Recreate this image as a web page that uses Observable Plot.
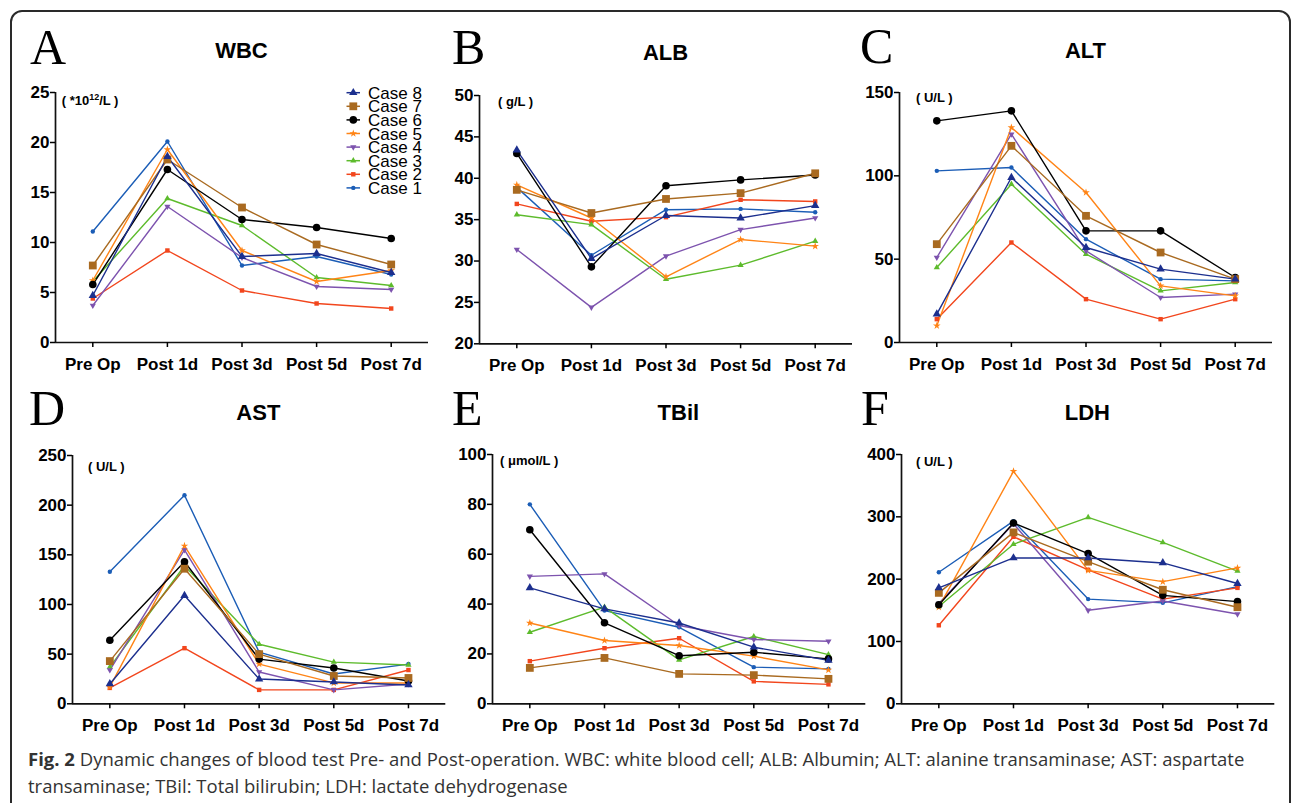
<!DOCTYPE html>
<html>
<head>
<meta charset="utf-8">
<script src="https://cdn.jsdelivr.net/npm/d3@7"></script>
<script src="https://cdn.jsdelivr.net/npm/@observablehq/plot@0.6"></script>
<style>
  html, body { margin: 0; padding: 0; background: #fff; }
  #fig { position: relative; width: 1292px; height: 803px; overflow: hidden; background: #fff;
         font-family: "Liberation Sans", Arial, sans-serif; }
  #border { position: absolute; left: 10px; top: 10px; width: 1281px; height: 900px;
            border: 2px solid #2a2a2a; border-radius: 12px; box-sizing: border-box; }
  .panel { position: absolute; }
  #overlay { position: absolute; left: 0; top: 0; pointer-events: none; }
  #caption { position: absolute; left: 28px; top: 745px; width: 1260px; font-family: "Open Sans", sans-serif;
             font-size: 18.5px; line-height: 27px; color: #333; white-space: nowrap; }
  #caption b { font-weight: 700; }
</style>
</head>
<body>
<div id="fig">
  <div id="border"></div>
  <div id="caption"><b>Fig. 2</b> Dynamic changes of blood test Pre- and Post-operation. WBC: white blood cell; ALB: Albumin; ALT: alanine transaminase; AST: aspartate<br>transaminase; TBil: Total bilirubin; LDH: lactate dehydrogenase</div>
</div>
<script>
// ---------------- data ----------------
const timepoints = ["Pre Op", "Post 1d", "Post 3d", "Post 5d", "Post 7d"];
const cases = ["Case 1", "Case 2", "Case 3", "Case 4", "Case 5", "Case 6", "Case 7", "Case 8"];

// rows: Case 1 .. Case 8, columns: timepoints
const wbc = [
  [11.1, 20.1, 7.7, 8.6, 6.8],
  [4.4, 9.2, 5.2, 3.9, 3.4],
  [6.1, 14.4, 11.7, 6.5, 5.7],
  [3.7, 13.6, 8.5, 5.6, 5.3],
  [6.2, 19.3, 9.2, 6.1, 7.2],
  [5.8, 17.3, 12.3, 11.5, 10.4],
  [7.7, 18.3, 13.5, 9.8, 7.8],
  [4.7, 18.6, 8.6, 8.9, 7.0]
];
const alb = [
  [38.9, 30.7, 36.2, 36.3, 35.9],
  [36.9, 34.8, 35.3, 37.4, 37.2],
  [35.6, 34.4, 27.8, 29.5, 32.4],
  [31.4, 24.4, 30.6, 33.8, 35.2],
  [39.2, 35.2, 28.1, 32.6, 31.8],
  [43.0, 29.3, 39.1, 39.8, 40.4],
  [38.6, 35.8, 37.5, 38.2, 40.6],
  [43.4, 30.3, 35.5, 35.2, 36.7]
];
const alt = [
  [103, 105, 62, 38, 37],
  [14, 60, 26, 14, 26],
  [45, 95, 53, 31, 36],
  [51, 125, 55, 27, 29],
  [10, 129, 90, 34, 28],
  [133, 139, 67, 67, 39],
  [59, 118, 76, 54, 38],
  [17, 99, 57, 44, 38]
];
const ast = [
  [133, 210, 52, 30, 40],
  [16, 56, 14, 14, 34],
  [37, 139, 60, 42, 39],
  [34, 155, 32, 14, 20],
  [17, 159, 40, 21, 21],
  [64, 143, 45, 36, 23],
  [43, 136, 50, 28, 26],
  [20, 109, 25, 22, 19]
];
const tbil = [
  [80, 37.4, 30.7, 14.7, 14.0],
  [17.1, 22.3, 26.3, 9.0, 7.8],
  [28.7, 38.8, 17.6, 27.0, 19.7],
  [51.1, 52.1, 31.4, 25.8, 25.1],
  [32.4, 25.4, 23.4, 19.1, 13.6],
  [69.8, 32.5, 19.3, 20.7, 18.0],
  [14.4, 18.4, 12.0, 11.5, 10.0],
  [46.5, 38.1, 32.4, 22.7, 17.4]
];
const ldh = [
  [211, 293, 168, 162, 188],
  [126, 268, 215, 168, 186],
  [156, 256, 299, 259, 213],
  [161, 289, 150, 165, 144],
  [155, 373, 214, 196, 218],
  [159, 290, 241, 174, 164],
  [178, 275, 228, 183, 155],
  [186, 234, 234, 226, 193]
];

const wbcTicks = [0, 5, 10, 15, 20, 25];
const albTicks = [20, 25, 30, 35, 40, 45, 50];
const altTicks = [0, 50, 100, 150];
const astTicks = [0, 50, 100, 150, 200, 250];
const tbilTicks = [0, 20, 40, 60, 80, 100];
const ldhTicks = [0, 100, 200, 300, 400];

// ---------------- styles ----------------
const sqrt3 = Math.sqrt(3);
const triangleDown = {
  draw(context, size) {
    const y = -Math.sqrt(size / (sqrt3 * 3));
    context.moveTo(0, -y * 2);
    context.lineTo(-sqrt3 * y, y);
    context.lineTo(sqrt3 * y, y);
    context.closePath();
  }
};
const d3Sym = {circle: d3.symbolCircle, square: d3.symbolSquare, triangle: d3.symbolTriangle, star: d3.symbolStar};

const caseStyles = [
  {color: "#1b5db6", symbol: "circle", r: 2.2},
  {color: "#f2461d", symbol: "square", r: 2.5},
  {color: "#5dbb2c", symbol: "triangle", r: 2.3},
  {color: "#7d53ae", symbol: triangleDown, r: 2.3},
  {color: "#ff8416", symbol: "star", r: 2.4},
  {color: "#000000", symbol: "circle", r: 3.8},
  {color: "#a96a20", symbol: "square", r: 4.4},
  {color: "#1c2f8e", symbol: "triangle", r: 3.1}
];

// ---------------- layout ----------------
const panels = [
  {letter: "A", title: "WBC", values: wbc, ticks: wbcTicks, frame: {l: 55, r: 428, t: 91.7, b: 341.7},
   letterPos: [30, 64], titleY: 58, unit: ["( *10", "12", "/L )"], unitPos: [61.7, 104.5], legend: true},
  {letter: "B", title: "ALB", values: alb, ticks: albTicks, frame: {l: 479, r: 852, t: 95, b: 343.3},
   letterPos: [452, 64], titleY: 59.5, unit: ["( g/L )"], unitPos: [498, 105.5]},
  {letter: "C", title: "ALT", values: alt, ticks: altTicks, frame: {l: 899, r: 1272, t: 91.7, b: 341.7},
   letterPos: [860, 63], titleY: 58, unit: ["( U/L )"], unitPos: [916, 102.4]},
  {letter: "D", title: "AST", values: ast, ticks: astTicks, frame: {l: 71.7, r: 445, t: 455, b: 703.3},
   letterPos: [29, 425], titleY: 419.5, unit: ["( U/L )"], unitPos: [88, 470.7]},
  {letter: "E", title: "TBil", values: tbil, ticks: tbilTicks, frame: {l: 491.7, r: 865, t: 454, b: 703.3},
   letterPos: [452, 425], titleY: 419.5, unit: ["( \u03bcmol/L )"], unitPos: [500, 465.4]},
  {letter: "F", title: "LDH", values: ldh, ticks: ldhTicks, frame: {l: 900.7, r: 1274, t: 454, b: 703.3},
   letterPos: [861, 425], titleY: 419.5, unit: ["( U/L )"], unitPos: [916, 465.7]}
];

const fig = document.getElementById("fig");
const mL = 60, mR = 10, mT = 12, mB = 40;

for (const p of panels) {
  const f = p.frame;
  const width = (f.r - f.l) + mL + mR;
  const height = (f.b - f.t) + mT + mB;
  const yDomain = [p.ticks[0], p.ticks[p.ticks.length - 1]];
  const marks = [];
  p.values.forEach((row, k) => {
    const st = caseStyles[k];
    const pts = row.map((v, i) => ({i, v, t: timepoints[i], c: cases[k]}));
    marks.push(Plot.line(pts, {x: "i", y: "v", stroke: st.color, strokeWidth: 1.4}));
  });
  p.values.forEach((row, k) => {
    const st = caseStyles[k];
    const pts = row.map((v, i) => ({i, v, t: timepoints[i], c: cases[k]}));
    marks.push(Plot.dot(pts, {x: "i", y: "v", fill: st.color, stroke: "none", symbol: st.symbol, r: st.r}));
  });
  const chart = Plot.plot({
    width, height,
    marginLeft: mL, marginRight: mR, marginTop: mT, marginBottom: mB,
    style: {fontFamily: "'Liberation Sans', Arial, sans-serif", fontSize: "17px", fontWeight: "bold",
            color: "#000", background: "transparent", overflow: "visible"},
    x: {type: "linear", domain: [-0.5, timepoints.length - 0.5], axis: null},
    y: {domain: yDomain, axis: null},
    marks: [
      Plot.ruleX([-0.5], {stroke: "#111", strokeWidth: 1.7}),
      Plot.ruleY([yDomain[0]], {stroke: "#111", strokeWidth: 1.7}),
      Plot.axisY(p.ticks, {anchor: "left", tickSize: 5, tickPadding: 1, strokeWidth: 1.5,
                           fontSize: 17, fontWeight: "bold", fill: "#000", label: null}),
      Plot.axisX(d3.range(timepoints.length), {anchor: "bottom", tickSize: 5, tickPadding: 10, strokeWidth: 1.5,
                           tickFormat: i => timepoints[i], fontSize: 17, fontWeight: "bold", fill: "#000", label: null}),
      ...marks
    ]
  });
  chart.classList.add("panel");
  chart.style.left = (f.l - mL) + "px";
  chart.style.top = (f.t - mT) + "px";
  chart.style.position = "absolute";
  fig.appendChild(chart);
}

// ---------------- overlay text: letters, titles, units, legend ----------------
const svg = d3.select(fig).append("svg").attr("id", "overlay").attr("width", 1292).attr("height", 803);
for (const p of panels) {
  const f = p.frame;
  svg.append("text").attr("x", p.letterPos[0]).attr("y", p.letterPos[1])
    .attr("font-family", "'Liberation Serif', 'Times New Roman', serif").attr("font-size", 50)
    .attr("fill", "#000").text(p.letter);
  svg.append("text").attr("x", (f.l + f.r) / 2).attr("y", p.titleY).attr("text-anchor", "middle")
    .attr("font-family", "'Liberation Sans', Arial, sans-serif").attr("font-size", 22)
    .attr("font-weight", "bold").attr("fill", "#000").text(p.title);
  const u = svg.append("text").attr("x", p.unitPos[0]).attr("y", p.unitPos[1])
    .attr("font-family", "'Liberation Sans', Arial, sans-serif").attr("font-size", 13)
    .attr("font-weight", "bold").attr("fill", "#000");
  if (p.unit.length === 3) {
    u.append("tspan").text(p.unit[0]);
    u.append("tspan").attr("dy", -5).attr("font-size", 9).text(p.unit[1]);
    u.append("tspan").attr("dy", 5).text(p.unit[2]);
  } else {
    u.text(p.unit[0]);
  }
  if (p.legend) {
    const order = d3.range(cases.length).reverse();
    order.forEach((k, j) => {
      const st = caseStyles[k];
      const cy = 92.7 + j * 13.6;
      const g = svg.append("g");
      g.append("line").attr("x1", 346.5).attr("x2", 360).attr("y1", cy).attr("y2", cy)
        .attr("stroke", st.color).attr("stroke-width", 1.5);
      const type = typeof st.symbol === "string" ? d3Sym[st.symbol] : st.symbol;
      g.append("path").attr("transform", `translate(353.3,${cy})`)
        .attr("d", d3.symbol().type(type).size(Math.PI * st.r * st.r)()).attr("fill", st.color);
      g.append("text").attr("x", 368).attr("y", cy + 6.1)
        .attr("font-family", "'Liberation Sans', Arial, sans-serif").attr("font-size", 17)
        .attr("fill", "#000").text(cases[k]);
    });
  }
}
</script>
</body>
</html>
